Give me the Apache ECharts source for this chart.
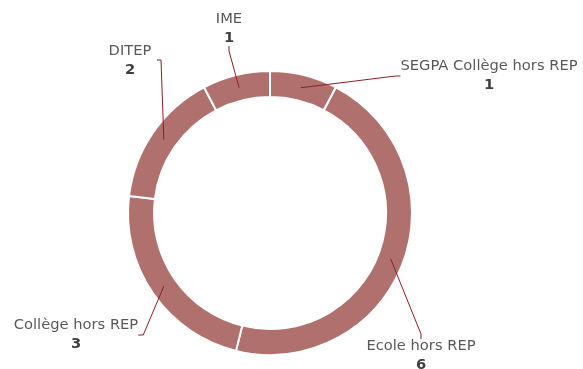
<!DOCTYPE html>
<html>
<head>
<meta charset="utf-8">
<style>
  html, body { margin: 0; padding: 0; background: #ffffff; }
  #chart { width: 583px; height: 369px; }
</style>
<script src="https://cdn.jsdelivr.net/npm/echarts@6/dist/echarts.min.js"></script>
</head>
<body>
<div id="chart"></div>
<script>
// données du graphique
const categories = ['SEGPA Collège hors REP', 'Ecole hors REP', 'Collège hors REP', 'DITEP', 'IME'];
const values = [1, 6, 3, 2, 1];

// position des étiquettes (centre x, haut y)
const labelPos = [
  [489, 57],
  [421, 337],
  [76, 316],
  [130, 42],
  [229, 10]
];

const chart = echarts.init(document.getElementById('chart'));

const textName = { fontFamily: 'DejaVu Sans', fontSize: 14.7, color: '#595959', lineHeight: 19 };
const textVal = { fontFamily: 'DejaVu Sans', fontSize: 14.7, fontWeight: 'bold', color: '#404040', lineHeight: 19 };

const option = {
  animation: false,
  series: [
    {
      // anneau
      type: 'pie',
      z: 1,
      center: [270, 213],
      radius: [116, 142],
      startAngle: 90,
      clockwise: true,
      silent: true,
      itemStyle: {
        color: '#b0716e',
        borderColor: '#ffffff',
        borderWidth: 2
      },
      label: { show: false },
      labelLine: { show: false },
      data: categories.map((c, i) => ({ name: c, value: values[i] }))
    },
    {
      // étiquettes : traits partant du milieu de l'anneau
      type: 'pie',
      z: 5,
      center: [270, 213],
      radius: [0, 129],
      startAngle: 90,
      clockwise: true,
      silent: true,
      itemStyle: { color: 'rgba(0,0,0,0)', borderWidth: 0 },
      label: {
        show: true,
        position: 'outside',
        formatter: '{n|{b}}\n{v|{c}}',
        rich: { n: textName, v: textVal }
      },
      labelLine: {
        show: true,
        length: 10,
        length2: 5,
        lineStyle: { color: '#8b1f1f', width: 1 }
      },
      labelLayout: function (params) {
        const p = labelPos[params.dataIndex];
        const res = { x: p[0], y: p[1], align: 'center', verticalAlign: 'top' };
        if (params.dataIndex === 3 && params.labelLinePoints) {
          // DITEP : trait accroché au côté droit de l'étiquette
          res.labelLinePoints = [params.labelLinePoints[0], [161, 60], [157, 60]];
        }
        return res;
      },
      data: categories.map((c, i) => ({ name: c, value: values[i] }))
    }
  ]
};

chart.setOption(option);
</script>
</body>
</html>
